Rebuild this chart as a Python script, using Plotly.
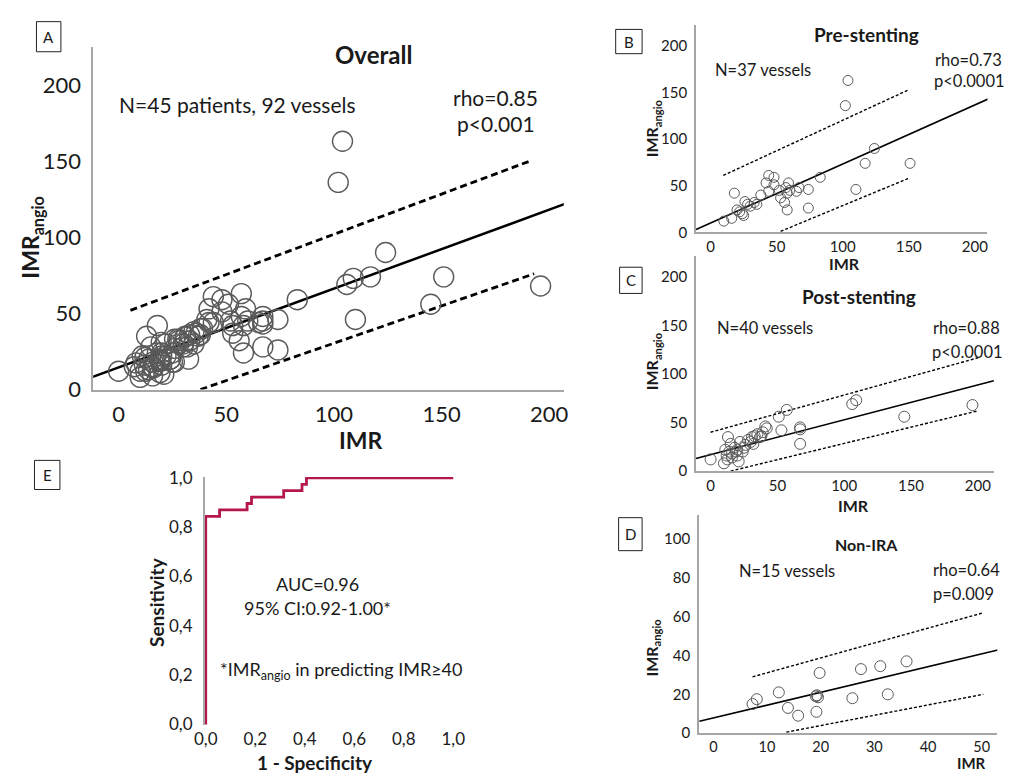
import plotly.graph_objects as go

W, H = 1021, 784
FONT = "Lato"

# ---------------- data ----------------
# Panel B: pre-stenting (37 vessels)
pre_imr = [10, 16, 18, 20, 24, 26, 30, 33, 22, 28, 42, 44, 48, 48, 44, 53, 57, 59, 58, 56,
           58, 65, 67, 74, 74, 83, 110, 117, 124, 151, 102, 104, 35, 52, 60, 25, 38]
pre_angio = [12, 15, 42, 24, 20, 33, 28, 32, 22, 30, 53, 61, 59, 51, 44, 37, 48, 53, 42, 32,
             24, 44, 48, 46, 26, 59, 46, 74, 90, 74, 136, 163, 30, 45, 45, 18, 40]
# Panel C: post-stenting (40 vessels)
post_imr = [0, 10, 11, 12.6, 13, 16, 20, 21, 22, 26, 31, 32, 37, 39, 41, 51, 57, 53, 67, 67,
            67, 106, 109, 145, 196, 14, 16, 18, 24, 28, 35, 20, 12, 30, 33, 42, 25, 15, 38, 19]
post_angio = [12, 8, 22, 12, 35, 18, 22, 10, 30, 27, 35, 28, 35, 40, 46, 56, 63, 42, 43, 45,
              28, 69, 73, 56, 68, 20, 14, 24, 20, 32, 38, 16, 16, 30, 36, 44, 24, 28, 36, 20]
# Panel D: non-IRA (15 vessels)
nonira_imr = [7.3, 8.1, 12.2, 13.9, 15.8, 19.1, 19.5, 19.8, 19.2, 25.9, 27.5, 31.1, 32.5, 36, 19.3]
nonira_angio = [15, 17.5, 21, 13, 9, 19, 18.5, 31, 11, 18, 33, 34.5, 20, 37, 19.5]
# Panel A: overall (92 vessels)
all_imr = pre_imr + post_imr + nonira_imr
all_angio = pre_angio + post_angio + nonira_angio

# regression lines and 95% prediction limits (endpoints)
fitA_x, fitA_y = [-12, 207], [8.3, 121.7]
upA_x, upA_y = [5.5, 191], [52, 150]
loA_x, loA_y = [38, 193], [0, 76]

fitB_x, fitB_y = [-11, 210], [3, 143]
upB_x, upB_y = [9.6, 150], [61, 153]
loB_x, loB_y = [53, 150], [1, 58]

fitC_x, fitC_y = [-11, 212], [13, 93]
upC_x, upC_y = [0, 201], [40, 117]
loC_x, loC_y = [15, 200], [0, 62]

fitD_x, fitD_y = [-2.6, 53], [6.1, 42.8]
upD_x, upD_y = [7.3, 50.3], [29, 62]
loD_x, loD_y = [13.6, 50.3], [0.5, 20]

# Panel E: ROC curve
roc_fpr = [0, 0, 0.056, 0.167, 0.185, 0.315, 0.389, 0.407, 1.0]
roc_tpr = [0, 0.844, 0.870, 0.896, 0.922, 0.948, 0.974, 1.0, 1.0]
roc_ticks = [0, 0.2, 0.4, 0.6, 0.8, 1.0]
roc_ticktext = ["0,0", "0,2", "0,4", "0,6", "0,8", "1,0"]

imr_ticks = [0, 50, 100, 150, 200]
nonira_xticks = [0, 10, 20, 30, 40, 50]
nonira_yticks = [0, 20, 40, 60, 80, 100]


def px_x(p):
    return p / W


def px_y(p):
    return 1 - p / H


fig = go.Figure()

AXC = "#a6a6a6"
TXT = "#1a1a1a"


def add_panel(n, xs, ys, fit, up, lo, msize, mline, lw_fit, lw_pi, dash):
    xa = "x" if n == 1 else f"x{n}"
    ya = "y" if n == 1 else f"y{n}"
    fig.add_trace(go.Scatter(x=up[0], y=up[1], mode="lines", xaxis=xa, yaxis=ya,
                             line=dict(color="black", width=lw_pi, dash=dash), showlegend=False))
    fig.add_trace(go.Scatter(x=lo[0], y=lo[1], mode="lines", xaxis=xa, yaxis=ya,
                             line=dict(color="black", width=lw_pi, dash=dash), showlegend=False))
    fig.add_trace(go.Scatter(x=fit[0], y=fit[1], mode="lines", xaxis=xa, yaxis=ya,
                             line=dict(color="black", width=lw_fit), showlegend=False))
    fig.add_trace(go.Scatter(x=xs, y=ys, mode="markers", xaxis=xa, yaxis=ya,
                             marker=dict(symbol="circle-open", size=msize, color="#5a5a5a",
                                         line=dict(width=mline, color="#5a5a5a")),
                             showlegend=False, cliponaxis=False))


add_panel(1, all_imr, all_angio, (fitA_x, fitA_y), (upA_x, upA_y), (loA_x, loA_y),
          20, 1.4, 2.5, 2.8, "7px,4px")
add_panel(2, pre_imr, pre_angio, (fitB_x, fitB_y), (upB_x, upB_y), (loB_x, loB_y),
          10, 1.0, 1.6, 1.4, "3px,2px")
add_panel(3, post_imr, post_angio, (fitC_x, fitC_y), (upC_x, upC_y), (loC_x, loC_y),
          11, 1.0, 1.6, 1.4, "3px,2px")
add_panel(4, nonira_imr, nonira_angio, (fitD_x, fitD_y), (upD_x, upD_y), (loD_x, loD_y),
          11, 1.0, 1.6, 1.4, "3px,2px")

fig.add_trace(go.Scatter(x=roc_fpr, y=roc_tpr, mode="lines", xaxis="x5", yaxis="y5",
                         line=dict(color="#b5174b", width=2.8, shape="hv"), showlegend=False))


def ax(dom, rng, tickvals, fs, ticktext=None, showline=True, standoff=4):
    d = dict(domain=dom, range=rng, tickvals=tickvals, showgrid=False, zeroline=False,
             showline=showline, linecolor=AXC, linewidth=1.5, ticks="",
             ticklabelstandoff=standoff,
             tickfont=dict(size=fs, color=TXT, family=FONT), fixedrange=True)
    if ticktext is not None:
        d["ticktext"] = ticktext
    return d


fig.update_layout(
    width=W, height=H, margin=dict(l=0, r=0, t=0, b=0),
    paper_bgcolor="white", plot_bgcolor="white",
    font=dict(family=FONT, color=TXT),
    xaxis=dict(ax([px_x(84), px_x(565)], [-11.8, 206.8], imr_ticks, 22, standoff=4), anchor="y"),
    yaxis=dict(ax([px_y(391), px_y(38)], [0, 225], imr_ticks, 22, standoff=6), anchor="x"),
    xaxis2=dict(ax([px_x(700), px_x(998)], [-11.1, 209.6], imr_ticks, 15, standoff=0), anchor="y2"),
    yaxis2=dict(ax([px_y(229), px_y(15)], [0, 223], imr_ticks, 15), anchor="x2"),
    xaxis3=dict(ax([px_x(700), px_x(1005)], [-11, 212.4], imr_ticks, 15, standoff=0), anchor="y3"),
    yaxis3=dict(ax([px_y(475), px_y(253)], [0, 222], imr_ticks, 15), anchor="x3"),
    xaxis4=dict(ax([px_x(703), px_x(1008)], [-2.7, 52.9], nonira_xticks, 14.5, standoff=0), anchor="y4"),
    yaxis4=dict(ax([px_y(745), px_y(520)], [0, 112.5], nonira_yticks, 15), anchor="x4"),
    xaxis5=dict(ax([px_x(198), px_x(453)], [-0.004, 1.004], roc_ticks, 17, roc_ticktext,
                   showline=False, standoff=2), anchor="y5"),
    yaxis5=dict(ax([px_y(737), px_y(481)], [-0.004, 1.004], roc_ticks, 17, roc_ticktext,
                   standoff=7), anchor="x5"),
)

ann = []


def text(s, x, y, size, bold=False, anchor="center", angle=0):
    if bold:
        s = f"<b>{s}</b>"
    ann.append(dict(text=s, x=px_x(x), y=px_y(y), xref="paper", yref="paper",
                    showarrow=False, xanchor=anchor, yanchor="middle", textangle=angle,
                    font=dict(size=size, color=TXT, family=FONT)))


# panel A
text("Overall", 370, 46, 24, bold=True)
text("N=45 patients, 92 vessels", 108, 97, 21, anchor="left")
text("rho=0.85", 541, 90, 21, anchor="right")
text("p<0.001", 538, 117, 21, anchor="right")
text("IMR", 358, 443, 23, bold=True)
text("IMR<sub>angio</sub>", 21, 235, 23, bold=True, angle=-90)

# panel B
text("Pre-stenting", 874, 25, 19, bold=True)
text("N=37 vessels", 717, 62, 16.5, anchor="left")
text("rho=0.73", 1015, 52, 16.5, anchor="right")
text("p<0.0001", 1018, 73, 16.5, anchor="right")
text("IMR", 852, 261, 16, bold=True)
text("IMR<sub>angio</sub>", 656, 122, 16, bold=True, angle=-90)

# panel C
text("Post-stenting", 867, 295, 19, bold=True)
text("N=40 vessels", 719, 328, 16.5, anchor="left")
text("rho=0.88", 1013, 328, 16.5, anchor="right")
text("p<0.0001", 1016, 352, 16.5, anchor="right")
text("IMR", 861, 510, 16, bold=True)
text("IMR<sub>angio</sub>", 656, 362, 16, bold=True, angle=-90)

# panel D
text("Non-IRA", 874, 551, 16, bold=True)
text("N=15 vessels", 742, 578, 16.5, anchor="left")
text("rho=0.64", 1013, 577, 16.5, anchor="right")
text("p=0.009", 1007, 602, 16.5, anchor="right")
text("IMR", 982, 776, 15, bold=True)
text("IMR<sub>angio</sub>", 656, 657, 16, bold=True, angle=-90)

# panel E
text("AUC=0.96", 313, 591, 18)
text("95% CI:0.92-1.00*", 313, 616, 18)
text("*IMR<sub>angio</sub> in predicting IMR≥40", 338, 680, 18)
text("1 - Specificity", 311, 775, 19, bold=True)
text("Sensitivity", 148, 610, 19, bold=True, angle=-90)

# panel letters in boxes
boxes = [("A", 26, 12, 51, 43), ("B", 618, 20, 645, 45), ("C", 622, 265, 645, 292),
         ("D", 621, 523, 645, 557), ("E", 24, 464, 50, 494)]
shapes = []
for lab, x0, y0, x1, y1 in boxes:
    shapes.append(dict(type="rect", xref="paper", yref="paper", x0=px_x(x0), x1=px_x(x1),
                       y0=px_y(y1), y1=px_y(y0), line=dict(color="#222", width=1)))
    text(lab, (x0 + x1) / 2, (y0 + y1) / 2, 15)

fig.update_layout(annotations=ann, shapes=shapes)
fig.write_html("out.html")
